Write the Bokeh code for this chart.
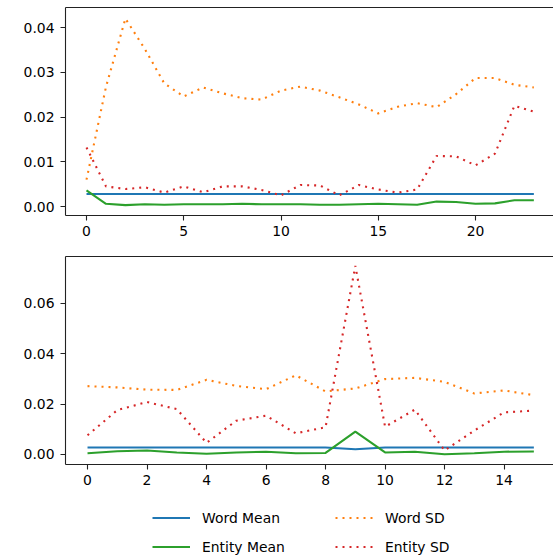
from bokeh.plotting import figure
from bokeh.models import FixedTicker, Range1d, Legend, LegendItem, NumeralTickFormatter, LinearAxis
from bokeh.layouts import column
from bokeh.embed import file_html
from bokeh.resources import INLINE

# ---------------- data ----------------
top_x = list(range(24))
top_word_mean = [0.0028, 0.0028, 0.0028, 0.0028, 0.0028, 0.0028, 0.0028, 0.0028,
                 0.0028, 0.0028, 0.0028, 0.0028, 0.0028, 0.0028, 0.0028, 0.0028,
                 0.0028, 0.0028, 0.0028, 0.0028, 0.0028, 0.0028, 0.0028, 0.0028]
top_entity_mean = [0.0036, 0.0006, 0.0003, 0.0005, 0.0004, 0.0005, 0.0005, 0.0005,
                   0.0006, 0.0005, 0.0005, 0.0005, 0.0004, 0.0004, 0.0005, 0.0006,
                   0.0005, 0.0004, 0.0011, 0.0010, 0.0006, 0.0007, 0.0014, 0.0014]
top_word_sd = [0.0060, 0.0267, 0.0420, 0.0352, 0.0275, 0.0246, 0.0266, 0.0253,
               0.0242, 0.0239, 0.0259, 0.0268, 0.0259, 0.0244, 0.0228, 0.0208,
               0.0223, 0.0231, 0.0222, 0.0251, 0.0287, 0.0287, 0.0272, 0.0266]
top_entity_sd = [0.0132, 0.0045, 0.0039, 0.0043, 0.0031, 0.0045, 0.0032, 0.0045,
                 0.0045, 0.0037, 0.0025, 0.0048, 0.0047, 0.0025, 0.0048, 0.0038,
                 0.0031, 0.0038, 0.0113, 0.0112, 0.0092, 0.0118, 0.0225, 0.0212]

bot_x = list(range(16))
bot_word_mean = [0.0028, 0.0028, 0.0028, 0.0028, 0.0028, 0.0028, 0.0028, 0.0028,
                 0.0028, 0.0021, 0.0028, 0.0028, 0.0028, 0.0028, 0.0028, 0.0028]
bot_entity_mean = [0.0005, 0.0013, 0.0016, 0.0008, 0.0003, 0.0008, 0.0011, 0.0005,
                   0.0006, 0.0091, 0.0008, 0.0011, 0.0001, 0.0005, 0.0011, 0.0012]
bot_word_sd = [0.0271, 0.0266, 0.0257, 0.0256, 0.0296, 0.0272, 0.0259, 0.0314,
               0.0250, 0.0262, 0.0299, 0.0304, 0.0288, 0.0242, 0.0254, 0.0235]
bot_entity_sd = [0.0076, 0.0176, 0.0208, 0.0180, 0.0046, 0.0134, 0.0154, 0.0084,
                 0.0108, 0.0748, 0.0110, 0.0178, 0.0016, 0.0095, 0.0167, 0.0174]

top_xticks = [0, 5, 10, 15, 20]
top_yticks = [0.0, 0.01, 0.02, 0.03, 0.04]
bot_xticks = [0, 2, 4, 6, 8, 10, 12, 14]
bot_yticks = [0.0, 0.02, 0.04, 0.06]

labels = ["Word Mean", "Word SD", "Entity Mean", "Entity SD"]

# ---------------- style ----------------
BLUE, ORANGE, GREEN, RED = "#1f77b4", "#ff7f0e", "#2ca02c", "#d62728"
LW = 2.1
DOT = "2 5"
FONT = "DejaVu Sans"
FS = "13.9px"
SPINE = "#222222"


def blank_axis(line_color):
    return LinearAxis(ticker=FixedTicker(ticks=[]), major_tick_out=0, major_tick_in=0,
                      major_tick_line_color=None, minor_tick_line_color=None,
                      major_label_standoff=0, major_label_text_font_size="0px",
                      axis_line_color=line_color, axis_line_width=1.1)


def make_fig(height, xr, yr, xticks, yticks, border_top, border_bottom):
    p = figure(width=553, height=height, x_range=Range1d(*xr), y_range=Range1d(*yr),
               toolbar_location=None, output_backend="svg",
               min_border_left=65, min_border_right=0,
               min_border_top=border_top, min_border_bottom=border_bottom)
    p.xgrid.visible = False
    p.ygrid.visible = False
    p.outline_line_color = None
    p.background_fill_color = "white"
    p.border_fill_color = "white"
    xb = p.below[0]
    yl = p.left[0]
    for ax in (xb, yl):
        ax.axis_line_color = SPINE
        ax.axis_line_width = 1.1
        ax.major_tick_in = 0
        ax.major_tick_out = 5
        ax.major_tick_line_width = 1.1
        ax.major_tick_line_color = SPINE
        ax.minor_tick_line_color = None
        ax.major_label_text_font = FONT
        ax.major_label_text_font_size = FS
        ax.major_label_text_color = "black"
    xb.major_label_standoff = 5
    yl.major_label_standoff = 6
    xb.ticker = FixedTicker(ticks=xticks)
    yl.ticker = FixedTicker(ticks=yticks)
    yl.formatter = NumeralTickFormatter(format="0.00")
    p.add_layout(blank_axis(SPINE), "above")
    return p


def add_series(p, x, wm, ws, em, es):
    r1 = p.line(x, wm, color=BLUE, line_width=LW)
    r2 = p.line(x, ws, color=ORANGE, line_width=LW, line_dash=DOT)
    r3 = p.line(x, em, color=GREEN, line_width=LW)
    r4 = p.line(x, es, color=RED, line_width=LW, line_dash=DOT)
    return r1, r2, r3, r4


p1 = make_fig(250, (-1.08, 24.01), (-0.00201, 0.04447), top_xticks, top_yticks, 7, 35)
add_series(p1, top_x, top_word_mean, top_word_sd, top_entity_mean, top_entity_sd)

p2 = make_fig(242, (-0.74, 15.66), (-0.00397, 0.07851), bot_xticks, bot_yticks, 6, 28)
add_series(p2, bot_x, bot_word_mean, bot_word_sd, bot_entity_mean, bot_entity_sd)

# legend strip: same series drawn out of view, only the legend shows
p3 = figure(width=553, height=65, x_range=Range1d(-20, -19), y_range=Range1d(0, 1),
            toolbar_location=None, output_backend="svg", x_axis_type=None, y_axis_type=None,
            min_border_left=65, min_border_right=0, min_border_top=0, min_border_bottom=0)
p3.outline_line_color = None
p3.xgrid.visible = False
p3.ygrid.visible = False
p3.border_fill_color = "white"
r_wm, r_ws, r_em, r_es = add_series(p3, bot_x, bot_word_mean, bot_word_sd,
                                    bot_entity_mean, bot_entity_sd)

legend = Legend(items=[LegendItem(label=labels[0], renderers=[r_wm]),
                       LegendItem(label=labels[2], renderers=[r_em]),
                       LegendItem(label=labels[1], renderers=[r_ws]),
                       LegendItem(label=labels[3], renderers=[r_es])],
                ncols=2, location=(87, 2), padding=0, margin=0, spacing=12,
                glyph_width=38, glyph_height=17, label_height=17, label_width=121,
                label_standoff=12, label_text_font=FONT, label_text_font_size=FS,
                label_text_color="black", border_line_color=None,
                background_fill_alpha=0)
p3.add_layout(legend, "center")

layout = column(p1, p2, p3, spacing=0)

with open("out.html", "w") as f:
    f.write(file_html(layout, INLINE))
